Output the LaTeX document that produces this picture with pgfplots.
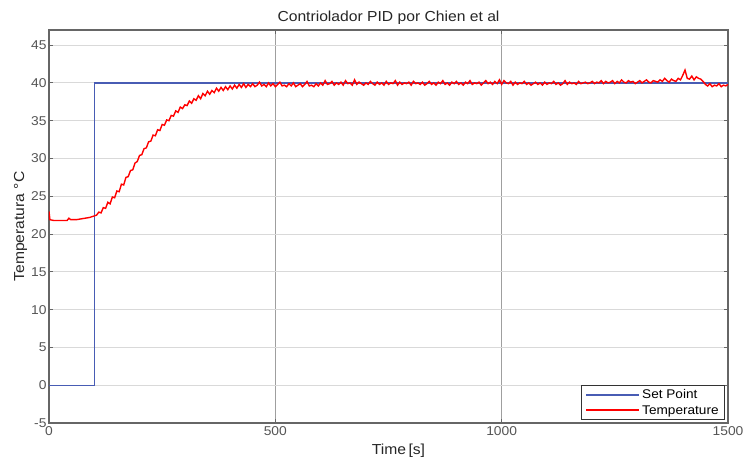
\documentclass[border=0pt]{standalone}
\usepackage{fontspec}
\setmainfont{Liberation Sans}[FakeStretch=1.08]
\usepackage{pgfplots}
\pgfplotsset{compat=1.18}
\definecolor{spblue}{RGB}{72,92,180}
\definecolor{tickgray}{RGB}{85,85,85}
\begin{document}
\begin{tikzpicture}
\useasboundingbox (-49pt,-45pt) rectangle (702pt,423pt);
\begin{axis}[
  scale only axis, width=679pt, height=393pt,
  xmin=0, xmax=1500, ymin=-5, ymax=47,
  xtick={0,500,1000,1500}, ytick={-5,0,...,45},
  /pgf/number format/assume math mode=true,
  /pgf/number format/1000 sep={},
  tick label style={font=\fontsize{12.8}{14}\selectfont, text=tickgray},
  yticklabel style={xshift=1pt},
  xmajorgrids, ymajorgrids,
  x grid style={gray!75, line width=0.8pt},
  y grid style={gray!30, line width=0.8pt},
  axis line style={gray!80!black, line width=1.2pt},
  tick style={gray!80!black, line width=0.8pt},
  major tick length=4pt,
  tick align=inside,
  title={Contriolador PID por Chien et al},
  title style={font=\fontsize{14.5}{16}\selectfont, text=black!85, yshift=-4pt},
  xlabel={Time\,[s]},
  ylabel={Temperatura °C},
  label style={font=\fontsize{14.5}{16}\selectfont, text=black!85},
  xlabel style={yshift=-2pt, xshift=10pt},
  ylabel style={yshift=-3pt},
  legend style={at={(1,0)}, anchor=south east, xshift=-3pt, yshift=3pt,
    font=\fontsize{12.6}{14}\selectfont, draw=black!80, thick,
    inner xsep=4pt, inner ysep=2pt, row sep=1pt,
    legend cell align=left},
  legend image code/.code={\draw[#1, line width=1.7pt] (0pt,0.3pt) -- (53pt,0.3pt);},
]
\addplot[spblue, line width=1.4pt] coordinates {(0,0) (100,0) (100,40) (1500,40)};
\addlegendentry{Set Point}
\addplot[red, line width=1.4pt] coordinates {
(0,23.0) (2,21.9) (10,21.8) (40,21.8) (44,22.1) (48,21.9) (60,21.9) (70,22.0) (80,22.1) (90,22.2) (95,22.3)
(100,22.4) (105,22.5) (110,22.9) (115,22.8) (120,23.5) (125,23.4) (130,24.2) (135,24.0) (140,24.9) (145,24.8)
(150,25.7) (155,25.6) (160,26.6) (165,26.5) (170,27.5) (175,27.6) (180,28.4) (185,28.5) (190,29.4) (195,29.6)
(200,30.4) (205,30.5) (210,31.3) (215,31.4) (220,32.2) (225,32.3) (230,33.1) (235,33.0) (240,33.8) (245,33.7)
(250,34.5) (255,34.4) (260,35.1) (265,35.0) (270,35.7) (275,35.6) (280,36.3) (285,36.1) (290,36.8) (295,36.6)
(300,37.1) (305,37.0) (310,37.6) (315,37.3) (320,37.9) (325,37.7) (330,38.3) (335,37.9) (340,38.6) (345,38.3)
(350,38.9) (355,38.5) (360,39.0) (365,38.7) (370,39.3) (375,38.9) (380,39.4) (385,39.0) (390,39.5) (395,39.1)
(400,39.6) (405,39.2) (410,39.7) (415,39.3) (420,39.8) (425,39.4) (430,39.9) (435,39.4) (440,39.8) (445,39.5)
(450,39.9) (455,39.5) (460,39.7) (465,40.1) (470,39.6) (475,39.8) (480,39.5) (485,40.0) (490,39.6) (495,39.9)
(500,39.5) (505,39.8) (510,40.1) (515,39.6) (520,39.7) (525,39.5) (530,39.9) (535,39.6) (540,40.0) (545,39.5)
(550,39.7) (555,39.9) (560,39.5) (565,39.8) (570,40.2) (575,39.6) (580,39.7) (585,39.5) (590,39.9) (595,39.6)
(600,40.0) (605,39.7) (610,40.3) (615,39.8) (620,39.9) (625,40.2) (630,39.7) (635,40.0) (640,39.8) (645,40.1)
(650,39.7) (655,40.3) (660,39.9) (665,40.0) (670,39.7) (675,40.4) (680,39.8) (685,40.1) (690,39.9) (695,39.7)
(700,40.0) (705,39.8) (710,40.2) (715,39.9) (720,39.7) (725,40.1) (730,39.8) (735,40.0) (740,39.7) (745,40.2)
(750,39.8) (755,40.0) (760,39.9) (765,40.3) (770,39.7) (775,40.1) (780,39.8) (785,40.0) (790,39.9) (795,40.1)
(800,39.7) (805,40.2) (810,39.9) (815,40.0) (820,39.8) (825,40.1) (830,39.7) (835,39.9) (840,40.2) (845,39.8)
(850,40.0) (855,39.7) (860,40.1) (865,39.9) (870,40.3) (875,39.8) (880,40.0) (885,39.7) (890,40.1) (895,39.9)
(900,40.2) (905,39.8) (910,40.0) (915,39.7) (920,40.1) (925,39.9) (930,40.3) (935,39.8) (940,40.0) (945,39.9)
(950,40.1) (955,39.7) (960,40.0) (965,40.3) (970,39.9) (975,40.1) (980,39.8) (985,40.2) (990,39.9) (995,40.4)
(1000,39.8) (1005,40.3) (1010,40.0) (1015,39.9) (1020,40.2) (1025,39.7) (1030,40.1) (1035,39.8) (1040,40.0) (1045,39.9)
(1050,40.2) (1055,39.8) (1060,40.0) (1065,39.7) (1070,39.9) (1075,40.1) (1080,39.8) (1085,40.0) (1090,39.7) (1095,40.1)
(1100,39.8) (1105,40.0) (1110,39.9) (1115,40.2) (1120,39.8) (1125,40.0) (1130,39.7) (1135,39.9) (1140,40.3) (1145,39.8)
(1150,40.1) (1155,39.9) (1160,40.0) (1165,39.8) (1170,40.2) (1175,39.9) (1180,40.0) (1185,40.1) (1190,39.9) (1195,40.0)
(1200,40.2) (1205,39.9) (1210,40.1) (1215,40.0) (1220,40.3) (1225,39.9) (1230,40.2) (1235,40.0) (1240,40.1) (1245,40.3)
(1250,39.9) (1255,40.2) (1260,40.0) (1265,40.4) (1270,40.1) (1275,40.0) (1280,40.3) (1285,40.1) (1290,40.2) (1295,39.9)
(1300,40.1) (1305,40.3) (1310,40.0) (1315,40.2) (1320,40.4) (1325,40.1) (1330,40.0) (1335,40.3) (1340,40.2) (1345,40.1)
(1350,40.4) (1355,40.2) (1360,40.6) (1365,40.3) (1370,40.1) (1375,40.5) (1380,40.3) (1385,40.2) (1390,40.6) (1395,40.4)
(1400,41.0) (1405,41.7) (1410,40.6) (1415,40.5) (1420,40.9) (1425,40.4) (1430,40.8) (1435,40.6) (1440,40.5) (1445,40.2)
(1450,39.8) (1455,39.6) (1460,39.9) (1465,39.5) (1470,39.7) (1475,39.6) (1480,39.9) (1485,39.5) (1490,39.7) (1495,39.6) (1500,39.8)
};
\addlegendentry{Temperature}
\end{axis}
\end{tikzpicture}
\end{document}
